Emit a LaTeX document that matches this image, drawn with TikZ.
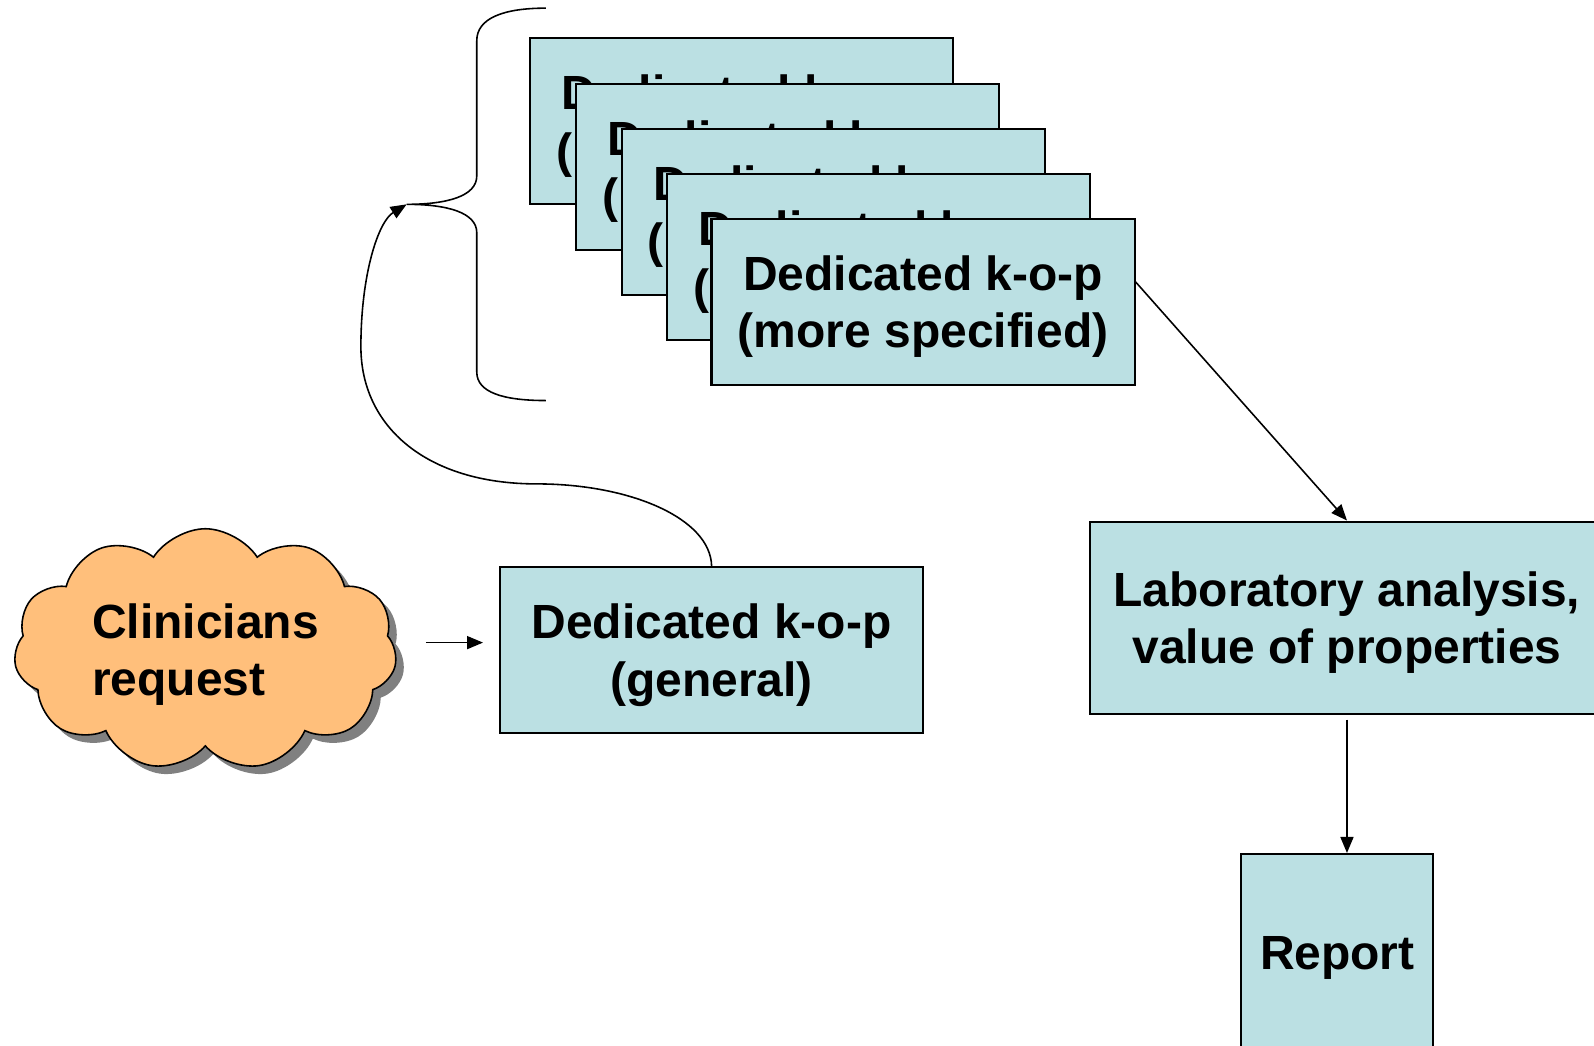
\documentclass[tikz,border=0pt]{standalone}
\usepackage{fontspec}
\setmainfont{Liberation Sans}
\usetikzlibrary{positioning,shapes.symbols,shadows,arrows.meta}
\definecolor{kopfill}{RGB}{187,224,227}
\definecolor{cloudfill}{RGB}{255,191,123}
\definecolor{shadowgray}{RGB}{128,128,128}
\tikzset{
  kop/.style={draw, line width=0.6pt, fill=kopfill, align=center, minimum width=42.3mm, minimum height=16.6mm, inner sep=0pt, text depth=0pt},
  arr/.style={-{Triangle[length=1.6mm, width=1.3mm]}, line width=0.45pt},
}

\begin{document}
\begin{tikzpicture}[x=0.10166mm, y=-0.10166mm, every node/.style={font=\bfseries\fontsize{13.65}{16.3}\selectfont}]
\useasboundingbox (0,0) rectangle (1568,1028);
\clip (0,0) rectangle (1568,1028);

% Clinicians request
\node[cloud, cloud puffs=11, cloud puff arc=115, aspect=1.6, inner sep=0pt, text depth=0pt, draw, line width=0.45pt, fill=cloudfill, minimum width=38.3mm, minimum height=23.9mm, align=left, drop shadow={shadow xshift=0.8mm, shadow yshift=-0.8mm, fill=shadowgray, opacity=1}] (req) at (202,639) {Clinicians\\request};

% General k-o-p
\node[kop] (gen) at (700,639.5) {Dedicated k-o-p\\(general)};

\draw[arr, shorten <=3mm, shorten >=1.6mm] ([yshift=0.7mm]req.east) -- ([yshift=0.7mm]req.east -| gen.west);

% Brace
\coordinate (brace) at (400,201);
\draw[line width=0.45pt] (537,8) .. controls (495,8) and (469,18) .. (469,40) -- (469,173) .. controls (469,193) and (440,201) .. (brace) .. controls (440,201) and (469,209) .. (469,229) -- (469,366) .. controls (469,386) and (495,394) .. (537,394);

% Back to the brace
\draw[arr] (gen.north) .. controls (699,510) and (620,476) .. (528,476) .. controls (420,476) and (355,420) .. (355,341) .. controls (355,270) and (372,218) .. (brace);

% Stack of more specified k-o-p
\node[kop] (kop1) at (729.5,119) {Dedicated k-o-p\\(more specified)};
\node[kop] (kop2) at (774.5,164) {Dedicated k-o-p\\(more specified)};
\node[kop] (kop3) at (819.5,208.5) {Dedicated k-o-p\\(more specified)};
\node[kop] (kop4) at (864,253) {Dedicated k-o-p\\(more specified)};
\node[kop] (kop5) at (908,297) {Dedicated k-o-p\\(more specified)};

% Laboratory analysis
\node[kop, minimum width=51.4mm, minimum height=19.2mm] (lab) at (1325,607.5) {Laboratory analysis,\\value of properties};

% Report
\node[kop, minimum width=19.2mm, minimum height=19.7mm] (report) at (1315.5,937) {Report};

% Arrows
\draw[arr] ([yshift=2mm]kop5.east) -- (lab.north);
\draw[arr, shorten <=0.5mm] (lab.south) -- (lab.south |- report.north);
\end{tikzpicture}
\end{document}
